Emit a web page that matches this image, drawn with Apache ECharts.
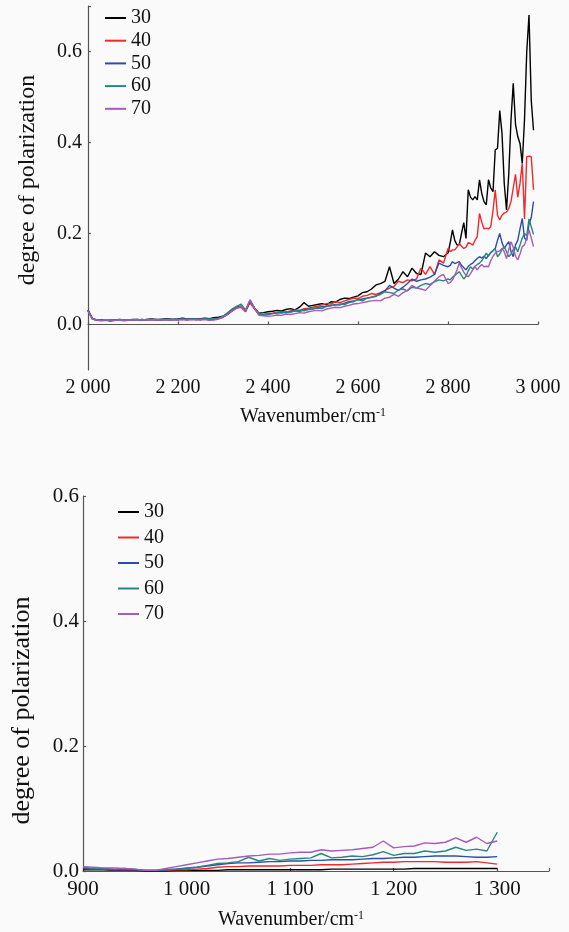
<!DOCTYPE html>
<html><head><meta charset="utf-8">
<script src="https://cdn.jsdelivr.net/npm/echarts@6/dist/echarts.min.js"></script>
<style>html,body{margin:0;padding:0;background:#fafafa}#c{width:569px;height:932px}</style>
</head><body><div id="c"></div>
<script>
// ---------- Top panel (2000-3000 cm-1) ----------
const topWavenumbers = [
  2000,2010,2020,2030,2040,2050,2060,2070,2080,2090,
  2100,2110,2120,2130,2140,2150,2160,2170,2180,2190,
  2200,2210,2220,2230,2240,2250,2260,2270,2280,2290,
  2300,2310,2320,2330,2340,2350,2360,2370,2380,2390,
  2400,2410,2420,2430,2440,2450,2460,2470,2480,2490,
  2500,2510,2520,2530,2540,2550,2560,2570,2580,2590,
  2600,2610,2620,2630,2640,2650,2660,2670,2680,2690,
  2700,2710,2720,2730,2740,2750,2760,2770,2780,2790,
  2800,
  2805,2810,2815,2820,2825,2830,2835,2840,2845,2850,2855,2860,2865,2870,2875,2880,2885,2890,2895,
  2900,2905,2910,2915,2920,2925,2930,2935,2940,2945,2950,2955,2960,2965,2970,2975,2980,2985,2990
];
const top30 = [
  0.032,0.013,0.010,0.010,0.009,0.010,0.010,0.011,0.010,0.010,
  0.011,0.011,0.010,0.011,0.012,0.011,0.011,0.012,0.012,0.011,
  0.012,0.014,0.012,0.013,0.012,0.013,0.014,0.013,0.015,0.016,
  0.018,0.024,0.032,0.038,0.040,0.030,0.050,0.036,0.025,0.026,
  0.028,0.029,0.031,0.030,0.033,0.035,0.032,0.038,0.048,0.040,
  0.042,0.044,0.046,0.043,0.050,0.049,0.055,0.058,0.057,0.060,
  0.063,0.070,0.072,0.078,0.087,0.090,0.095,0.127,0.090,0.100,
  0.116,0.105,0.124,0.112,0.110,0.157,0.149,0.160,0.152,0.149,
  0.157,
  0.180,0.208,0.185,0.175,0.175,0.200,0.224,0.189,0.296,0.280,0.274,0.281,0.274,0.318,0.288,0.270,0.263,0.318,0.300,
  0.292,0.384,0.387,0.470,0.420,0.310,0.252,0.330,0.450,0.530,0.440,0.413,0.398,0.354,0.450,0.600,0.680,0.493,0.427
];
const top40 = [
  0.030,0.012,0.009,0.008,0.009,0.007,0.009,0.010,0.008,0.009,
  0.010,0.010,0.009,0.010,0.011,0.010,0.010,0.011,0.010,0.011,
  0.011,0.012,0.010,0.012,0.011,0.012,0.012,0.010,0.012,0.013,
  0.017,0.022,0.030,0.036,0.038,0.028,0.048,0.034,0.022,0.022,
  0.024,0.025,0.027,0.028,0.027,0.030,0.032,0.031,0.035,0.036,
  0.038,0.040,0.043,0.046,0.045,0.050,0.048,0.052,0.055,0.058,
  0.057,0.062,0.064,0.068,0.066,0.070,0.075,0.080,0.084,0.095,
  0.092,0.098,0.096,0.100,0.124,0.110,0.127,0.110,0.142,0.135,
  0.167,
  0.160,0.164,0.164,0.170,0.178,0.172,0.167,0.170,0.180,0.178,0.174,0.185,0.193,0.244,0.225,0.210,0.212,0.210,0.215,
  0.250,0.296,0.240,0.230,0.240,0.245,0.247,0.255,0.270,0.300,0.330,0.280,0.310,0.354,0.232,0.369,0.370,0.369,0.296
];
const top50 = [
  0.031,0.012,0.010,0.009,0.009,0.010,0.009,0.010,0.010,0.009,
  0.010,0.010,0.011,0.010,0.011,0.011,0.010,0.011,0.011,0.011,
  0.011,0.012,0.011,0.012,0.012,0.011,0.012,0.011,0.012,0.013,
  0.016,0.022,0.030,0.036,0.040,0.030,0.052,0.036,0.022,0.021,
  0.022,0.024,0.025,0.027,0.026,0.029,0.030,0.029,0.032,0.034,
  0.035,0.037,0.039,0.040,0.042,0.044,0.043,0.047,0.050,0.052,
  0.054,0.056,0.058,0.060,0.062,0.069,0.074,0.086,0.080,0.075,
  0.082,0.090,0.100,0.095,0.098,0.100,0.104,0.110,0.135,0.130,
  0.127,
  0.130,0.138,0.134,0.136,0.138,0.130,0.125,0.120,0.128,0.132,0.135,0.140,0.145,0.149,0.146,0.150,0.145,0.152,0.158,
  0.162,0.167,0.185,0.200,0.180,0.167,0.175,0.182,0.160,0.149,0.175,0.185,0.210,0.233,0.190,0.185,0.220,0.235,0.270
];
const top60 = [
  0.030,0.012,0.010,0.009,0.010,0.009,0.010,0.010,0.009,0.010,
  0.010,0.011,0.010,0.010,0.011,0.010,0.011,0.011,0.010,0.011,
  0.011,0.011,0.012,0.011,0.012,0.011,0.012,0.012,0.013,0.014,
  0.018,0.026,0.034,0.040,0.045,0.032,0.054,0.036,0.023,0.022,
  0.023,0.024,0.026,0.025,0.028,0.027,0.030,0.031,0.030,0.033,
  0.034,0.036,0.035,0.040,0.041,0.043,0.045,0.044,0.048,0.050,
  0.055,0.052,0.058,0.060,0.063,0.066,0.072,0.070,0.068,0.076,
  0.078,0.074,0.082,0.080,0.086,0.090,0.088,0.094,0.098,0.096,
  0.100,
  0.098,0.104,0.108,0.112,0.116,0.108,0.100,0.106,0.118,0.127,0.122,0.128,0.132,0.135,0.140,0.148,0.157,0.150,0.158,
  0.162,0.167,0.149,0.155,0.165,0.171,0.160,0.149,0.155,0.165,0.171,0.160,0.175,0.190,0.200,0.195,0.232,0.215,0.198
];
const top70 = [
  0.030,0.012,0.010,0.009,0.010,0.010,0.009,0.010,0.010,0.010,
  0.010,0.010,0.011,0.010,0.010,0.011,0.010,0.010,0.011,0.010,
  0.010,0.011,0.010,0.011,0.010,0.010,0.011,0.009,0.010,0.012,
  0.016,0.022,0.030,0.036,0.040,0.030,0.054,0.036,0.020,0.019,
  0.018,0.019,0.021,0.020,0.023,0.022,0.024,0.026,0.025,0.028,
  0.030,0.031,0.030,0.034,0.036,0.038,0.037,0.040,0.042,0.045,
  0.046,0.048,0.050,0.052,0.053,0.052,0.058,0.060,0.066,0.062,
  0.070,0.075,0.086,0.080,0.078,0.075,0.085,0.095,0.105,0.110,
  0.090,
  0.092,0.098,0.108,0.120,0.135,0.125,0.115,0.108,0.105,0.112,0.120,0.127,0.120,0.127,0.132,0.127,0.128,0.127,0.140,
  0.150,0.157,0.160,0.162,0.167,0.160,0.145,0.165,0.182,0.170,0.150,0.142,0.155,0.171,0.175,0.190,0.208,0.190,0.171
];

// ---------- Bottom panel (900-1300 cm-1) ----------
const botWavenumbers = [
  900,910,920,930,940,950,960,970,980,990,
  1000,1010,1020,1030,1040,1050,1060,1070,1080,1090,
  1100,1110,1120,1130,1140,1150,1160,1170,1180,1190,
  1200,1210,1220,1230,1240,1250,1260,1270,1280,1290,1300
];
const bot30 = [
  0.002,0.002,0.002,0.001,0.001,0.001,0.000,0.000,0.000,0.001,
  0.001,0.001,0.001,0.001,0.002,0.002,0.002,0.002,0.002,0.002,
  0.002,0.002,0.002,0.002,0.003,0.003,0.003,0.003,0.003,0.003,
  0.003,0.003,0.004,0.004,0.004,0.004,0.004,0.004,0.004,0.004,0.004
];
const bot40 = [
  0.004,0.003,0.003,0.002,0.002,0.002,0.001,0.001,0.001,0.002,
  0.002,0.003,0.004,0.006,0.007,0.007,0.008,0.008,0.008,0.008,
  0.009,0.009,0.009,0.010,0.010,0.010,0.011,0.012,0.013,0.014,
  0.014,0.015,0.015,0.015,0.015,0.014,0.014,0.014,0.015,0.013,0.011
];
const bot50 = [
  0.004,0.003,0.003,0.002,0.002,0.002,0.001,0.001,0.002,0.003,
  0.005,0.006,0.008,0.010,0.012,0.013,0.013,0.014,0.015,0.015,
  0.016,0.016,0.017,0.017,0.018,0.018,0.018,0.019,0.020,0.020,
  0.021,0.022,0.022,0.023,0.024,0.024,0.024,0.023,0.022,0.022,0.023
];
const bot60 = [
  0.006,0.004,0.004,0.003,0.004,0.003,0.001,0.001,0.002,0.003,
  0.004,0.006,0.009,0.012,0.013,0.015,0.022,0.016,0.020,0.017,
  0.019,0.020,0.021,0.028,0.021,0.022,0.024,0.023,0.026,0.031,
  0.025,0.028,0.028,0.032,0.030,0.032,0.038,0.033,0.035,0.032,0.062
];
const bot70 = [
  0.007,0.006,0.005,0.005,0.004,0.003,0.001,0.001,0.004,0.007,
  0.010,0.013,0.016,0.019,0.020,0.022,0.024,0.025,0.027,0.027,
  0.029,0.030,0.030,0.034,0.032,0.033,0.034,0.036,0.038,0.048,
  0.037,0.039,0.040,0.045,0.044,0.046,0.053,0.046,0.054,0.044,0.048
];

const seriesNames = ['30','40','50','60','70'];
const seriesColors = ['#000000','#f02a2a','#2b4ea6','#2a8580','#a55bb8'];
const topSets = [top30, top40, top50, top60, top70];
const botSets = [bot30, bot40, bot50, bot60, bot70];

const FONT = '"Liberation Serif", "Times New Roman", serif';
function fmtWn(v){
  if (v >= 1000) { return Math.floor(v/1000) + ' ' + String(v % 1000).padStart(3,'0'); }
  return String(v);
}
const axisLineStyle = {color:'#555', width:1.2};
const labelTop = {color:'#111', fontFamily:FONT, fontSize:20};
const labelBot = {color:'#111', fontFamily:FONT, fontSize:21};

function pairs(xs, ys){ return xs.map((x,i)=>[x, ys[i]]); }

const series = [];
seriesNames.forEach((n,i)=>{
  series.push({name:n, type:'line', xAxisIndex:0, yAxisIndex:0, data:pairs(topWavenumbers, topSets[i]),
    showSymbol:false, symbol:'none', lineStyle:{color:seriesColors[i], width:1.4}, itemStyle:{color:seriesColors[i]}, animation:false});
});
seriesNames.forEach((n,i)=>{
  series.push({name:n, type:'line', xAxisIndex:1, yAxisIndex:1, data:pairs(botWavenumbers, botSets[i]),
    showSymbol:false, symbol:'none', lineStyle:{color:seriesColors[i], width:1.4}, itemStyle:{color:seriesColors[i]}, animation:false});
});

const xName = '{a|Wavenumber/cm}{b|-1}';
const xNameRich = {a:{fontFamily:FONT, fontSize:20, color:'#111'}, b:{fontFamily:FONT, fontSize:12, color:'#111', verticalAlign:'top', padding:[0,0,8,0]}};

const option = {
  backgroundColor:'#fafafa',
  animation:false,
  legend:[
    {data:seriesNames, orient:'vertical', left:105, top:8, padding:0, itemWidth:21, itemHeight:2, icon:'rect', itemGap:2.7,
     selectedMode:false, textStyle:{fontFamily:FONT, fontSize:20, color:'#111'}},
    {data:seriesNames, orient:'vertical', left:118, top:502, padding:0, itemWidth:21, itemHeight:2, icon:'rect', itemGap:5.5,
     selectedMode:false, textStyle:{fontFamily:FONT, fontSize:20, color:'#111'}}
  ],
  grid:[
    {left:88, top:6, right:31, height:364, outerBoundsMode:'none', containLabel:false},
    {left:83, top:496, right:20, height:375, outerBoundsMode:'none', containLabel:false}
  ],
  xAxis:[
    {gridIndex:0, type:'value', min:2000, max:3000, interval:200,
     axisLine:{lineStyle:axisLineStyle}, axisTick:{inside:true, length:3, lineStyle:axisLineStyle},
     axisLabel:Object.assign({formatter:fmtWn, margin:8}, labelTop), splitLine:{show:false},
     name:xName, nameLocation:'middle', nameGap:37, nameTextStyle:{rich:xNameRich}},
    {gridIndex:1, type:'value', min:900, max:1350, interval:100,
     axisLine:{lineStyle:axisLineStyle}, axisTick:{inside:true, length:3, lineStyle:axisLineStyle, customValues:[900,1000,1100,1200,1300,1350]},
     axisLabel:Object.assign({formatter:fmtWn, margin:8, customValues:[900,1000,1100,1200,1300]}, labelBot), splitLine:{show:false},
     name:xName, nameLocation:'middle', nameGap:39, nameTextStyle:{rich:xNameRich, padding:[0,50,0,0]}}
  ],
  yAxis:[
    {gridIndex:0, type:'value', min:-0.1, max:0.7,
     axisLine:{show:true, lineStyle:axisLineStyle}, axisTick:{show:true, inside:true, length:3, lineStyle:axisLineStyle, customValues:[0,0.2,0.4,0.6,0.7]},
     axisLabel:Object.assign({formatter:v=>v.toFixed(1), margin:6, customValues:[0,0.2,0.4,0.6]}, labelTop), splitLine:{show:false},
     name:'degree of polarization', nameLocation:'middle', nameGap:48, nameRotate:90,
     nameTextStyle:{fontFamily:FONT, fontSize:24, color:'#111', padding:[0,0,0,16]}},
    {gridIndex:1, type:'value', min:0, max:0.6,
     axisLine:{show:true, lineStyle:axisLineStyle}, axisTick:{show:true, inside:true, length:3, lineStyle:axisLineStyle, customValues:[0,0.2,0.4,0.6]},
     axisLabel:Object.assign({formatter:v=>v.toFixed(1), margin:4, customValues:[0,0.2,0.4,0.6]}, labelBot), splitLine:{show:false},
     name:'degree of polarization', nameLocation:'middle', nameGap:48, nameRotate:90,
     nameTextStyle:{fontFamily:FONT, fontSize:26, color:'#111', padding:[0,54,0,0]}}
  ],
  series:series
};

const chart = echarts.init(document.getElementById('c'), null, {renderer:'canvas'});
chart.setOption(option);
</script></body></html>
